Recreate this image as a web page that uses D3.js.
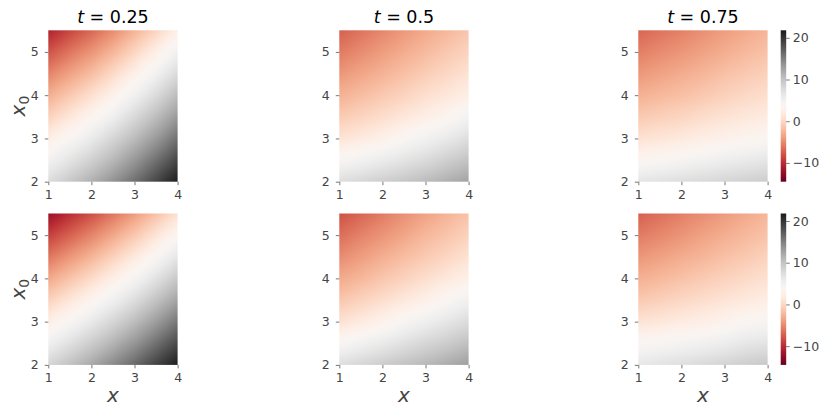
<!DOCTYPE html>
<html><head><meta charset="utf-8">
<script src="https://cdn.jsdelivr.net/npm/d3@7"></script>
<style>body{margin:0;background:#fff} svg{display:block}</style>
</head><body>
<script>
// ---------- data ----------
const xVals  = [1, 1.5, 2, 2.5, 3, 3.5, 4];          // columns (x)
const x0Vals = [5.5, 5, 4.5, 4, 3.5, 3, 2.5, 2];      // rows (x0), top to bottom
const tLabels = ["0.25", "0.5", "0.75"];
const xTicks = [1, 2, 3, 4];
const yTicks = [2, 3, 4, 5];
const cbTicks = [-10, 0, 10, 20];
const vMin = -14.5, vMax = 21.8;

const gridTop025 = [
  [-10.6, -8.6, -6.9, -4.9, -2.6, -0.3,  2.4],
  [ -7.9, -6.1, -4.4, -2.4, -0.1,  2.3,  5.0],
  [ -5.4, -3.6, -1.9,  0.2,  2.4,  4.9,  7.7],
  [ -2.9, -1.1,  0.7,  2.7,  5.0,  7.6, 10.5],
  [ -0.4,  1.4,  3.2,  5.3,  7.8, 10.4, 13.2],
  [  2.2,  3.9,  5.9,  8.1, 10.5, 13.1, 16.0],
  [  4.8,  6.7,  8.6, 10.8, 13.3, 15.9, 18.7],
  [  7.5,  9.4, 11.4, 13.6, 16.0, 18.6, 21.5]
];
const gridTop05 = [
  [-7.2, -6.2, -5.2, -4.2, -3.2, -2.3, -1.4],
  [-5.8, -4.9, -3.9, -3.0, -2.1, -1.2, -0.3],
  [-4.3, -3.4, -2.6, -1.7, -0.8,  0.0,  0.9],
  [-2.7, -1.9, -1.1, -0.3,  0.6,  1.4,  2.3],
  [-1.0, -0.3,  0.5,  1.3,  2.2,  3.2,  4.7],
  [ 1.0,  1.7,  2.5,  3.7,  4.8,  6.0,  7.3],
  [ 4.0,  4.8,  5.7,  6.6,  7.6,  8.8,  9.9],
  [ 7.3,  8.0,  8.8,  9.6, 10.5, 11.5, 12.5]
];
const gridTop075 = [
  [-6.9, -6.2, -5.5, -4.7, -3.9, -3.2, -2.5],
  [-5.6, -4.9, -4.3, -3.6, -2.9, -2.2, -1.6],
  [-4.2, -3.6, -3.0, -2.4, -1.7, -1.1, -0.5],
  [-2.7, -2.2, -1.7, -1.1, -0.5,  0.1,  0.6],
  [-1.1, -0.6, -0.2,  0.4,  0.9,  1.4,  1.8],
  [ 0.8,  1.2,  1.6,  2.1,  2.6,  3.1,  3.6],
  [ 3.3,  3.8,  4.3,  4.8,  5.4,  5.9,  6.4],
  [ 6.5,  6.9,  7.3,  7.7,  8.2,  8.6,  9.1]
];
const gridBot025 = [
  [-12.0, -9.9, -8.1, -6.1, -4.0, -1.7,  0.7],
  [ -8.9, -7.1, -5.3, -3.3, -1.2,  1.1,  3.5],
  [ -6.1, -4.3, -2.5, -0.5,  1.6,  3.9,  6.5],
  [ -3.3, -1.5,  0.3,  2.3,  4.4,  6.9,  9.5],
  [ -0.5,  1.3,  3.1,  5.2,  7.4,  9.9, 12.5],
  [  2.3,  4.1,  6.1,  8.2, 10.4, 12.9, 15.5],
  [  5.2,  7.1,  9.1, 11.2, 13.4, 15.9, 18.5],
  [  8.2, 10.1, 12.1, 14.2, 16.4, 18.9, 21.5]
];
const gridBot05 = [
  [-8.0, -6.9, -5.8, -4.7, -3.6, -2.6, -1.6],
  [-6.5, -5.4, -4.4, -3.4, -2.3, -1.4, -0.4],
  [-4.9, -3.9, -2.9, -1.9, -1.0, -0.1,  0.9],
  [-3.2, -2.3, -1.3, -0.4,  0.6,  1.5,  2.5],
  [-1.3, -0.4,  0.5,  1.5,  2.5,  3.8,  5.0],
  [ 0.8,  1.8,  2.8,  4.2,  5.3,  6.4,  7.6],
  [ 4.0,  5.0,  6.0,  7.1,  8.1,  9.1, 10.2],
  [ 7.3,  8.1,  9.0,  9.9, 10.8, 11.8, 12.8]
];
const gridBot075 = [
  [-7.2, -6.4, -5.6, -4.8, -4.0, -3.2, -2.4],
  [-5.8, -5.1, -4.4, -3.6, -2.9, -2.2, -1.5],
  [-4.3, -3.7, -3.0, -2.4, -1.7, -1.1, -0.4],
  [-2.8, -2.2, -1.6, -1.0, -0.4,  0.2,  0.8],
  [-1.1, -0.6,  0.0,  0.5,  1.1,  1.6,  2.1],
  [ 1.0,  1.4,  1.9,  2.3,  2.9,  3.8,  4.2],
  [ 3.8,  4.2,  4.6,  5.1,  5.6,  6.4,  6.8],
  [ 6.2,  6.7,  7.2,  7.7,  8.3,  8.9,  9.5]
];

const grids = [[gridTop025, gridTop05, gridTop075], [gridBot025, gridBot05, gridBot075]];

// ---------- layout ----------
const W = 831, H = 417;
const colLeft = [48.3, 339.3, 638.3], pw = 129.3;
const rowTop = [30.3, 213.5], ph = 151.4;
const cbX = 780.7, cbW = 5.5;
const FONT = "'DejaVu Sans', sans-serif";
const TXT = "#444";

const svg = d3.select("body").append("svg").attr("width", W).attr("height", H)
  .style("font-family", FONT);
const color = d3.scaleSequential(d3.interpolateRdGy).domain([vMin, vMax]);
const defs = svg.append("defs");

// colorbar gradient
const grad = defs.append("linearGradient").attr("id", "cbgrad")
  .attr("x1", 0).attr("y1", 1).attr("x2", 0).attr("y2", 0);
d3.range(0, 1.0001, 0.025).forEach(t => grad.append("stop")
  .attr("offset", t).attr("stop-color", d3.interpolateRdGy(t)));

function styleAxis(g) {
  g.select(".domain").remove();
  g.selectAll(".tick line").attr("stroke", "#555").attr("stroke-width", 0.8);
  g.selectAll(".tick text").attr("fill", TXT).style("font-size", "12.5px").style("font-family", FONT);
}

// Gouraud-style shading of the node grid (value-space, as pcolormesh shading='gouraud')
function shade(grid, x, y, left, top, w, h) {
  const S = 2;
  const cw = Math.round(w * S), ch = Math.round(h * S);
  const cv = document.createElement("canvas");
  cv.width = cw; cv.height = ch;
  const ctx = cv.getContext("2d");
  const img = ctx.createImageData(cw, ch);
  const ix = d3.scaleLinear().domain(d3.extent(xVals)).range([0, xVals.length - 1]).clamp(true);
  const iy = d3.scaleLinear().domain([x0Vals[0], x0Vals[x0Vals.length - 1]]).range([0, x0Vals.length - 1]).clamp(true);
  for (let py = 0; py < ch; py++) {
    const fy = iy(y.invert(top + (py + 0.5) / S));
    const j0 = Math.min(Math.floor(fy), x0Vals.length - 2), ty = fy - j0;
    for (let px = 0; px < cw; px++) {
      const fx = ix(x.invert(left + (px + 0.5) / S));
      const i0 = Math.min(Math.floor(fx), xVals.length - 2), tx = fx - i0;
      const v = (grid[j0][i0] * (1 - tx) + grid[j0][i0 + 1] * tx) * (1 - ty)
              + (grid[j0 + 1][i0] * (1 - tx) + grid[j0 + 1][i0 + 1] * tx) * ty;
      const c = d3.rgb(color(v)); const k = (py * cw + px) * 4;
      img.data[k] = c.r; img.data[k + 1] = c.g; img.data[k + 2] = c.b; img.data[k + 3] = 255;
    }
  }
  ctx.putImageData(img, 0, 0);
  return cv.toDataURL();
}

grids.forEach((row, ri) => {
  row.forEach((grid, ci) => {
    const left = colLeft[ci], top = rowTop[ri];
    const x = d3.scaleLinear().domain([1, 4]).range([left, left + pw]);
    const y = d3.scaleLinear().domain([2, 5.5]).range([top + ph, top]);

    svg.append("image")
      .attr("href", shade(grid, x, y, x(1), y(5.5), x(4) - x(1), y(2) - y(5.5)))
      .attr("x", x(1)).attr("y", y(5.5))
      .attr("width", x(4) - x(1)).attr("height", y(2) - y(5.5))
      .attr("preserveAspectRatio", "none");

    svg.append("g").attr("transform", `translate(0,${y(2)})`)
      .call(d3.axisBottom(x).tickValues(xTicks).tickFormat(d3.format("d")).tickSize(3.5).tickPadding(5))
      .call(styleAxis);
    svg.append("g").attr("transform", `translate(${x(1)},0)`)
      .call(d3.axisLeft(y).tickValues(yTicks).tickFormat(d3.format("d")).tickSize(3.5).tickPadding(6))
      .call(styleAxis);

    if (ri === 0) {
      const t = svg.append("text").attr("x", (x(1) + x(4)) / 2).attr("y", 22.7)
        .attr("text-anchor", "middle").style("font-size", "17.5px").attr("fill", "#000");
      t.append("tspan").style("font-style", "italic").text("t");
      t.append("tspan").text(" = " + tLabels[ci]);
    }
    if (ci === 0) {
      const yl = svg.append("text")
        .attr("transform", `translate(25,${(y(2) + y(5.5)) / 2}) rotate(-90)`)
        .attr("text-anchor", "middle").attr("fill", TXT).style("font-size", "20px");
      yl.append("tspan").style("font-style", "italic").text("x");
      yl.append("tspan").attr("dy", 4).style("font-size", "14px").text("0");
    }
    if (ri === 1) {
      svg.append("text").attr("x", (x(1) + x(4)) / 2).attr("y", 402)
        .attr("text-anchor", "middle").attr("fill", TXT)
        .style("font-size", "20px").style("font-style", "italic").text("x");
    }
    if (ci === 2) {
      const cy = d3.scaleLinear().domain([vMin, vMax]).range([top + ph, top]);
      svg.append("rect").attr("x", cbX).attr("y", cy(vMax)).attr("width", cbW)
        .attr("height", cy(vMin) - cy(vMax)).attr("fill", "url(#cbgrad)");
      svg.append("g").attr("transform", `translate(${cbX + cbW},0)`)
        .call(d3.axisRight(cy).tickValues(cbTicks).tickFormat(d => d < 0 ? "\u2212" + Math.abs(d) : d)
          .tickSize(3.5).tickPadding(3))
        .call(styleAxis);
    }
  });
});
</script>
</body></html>
